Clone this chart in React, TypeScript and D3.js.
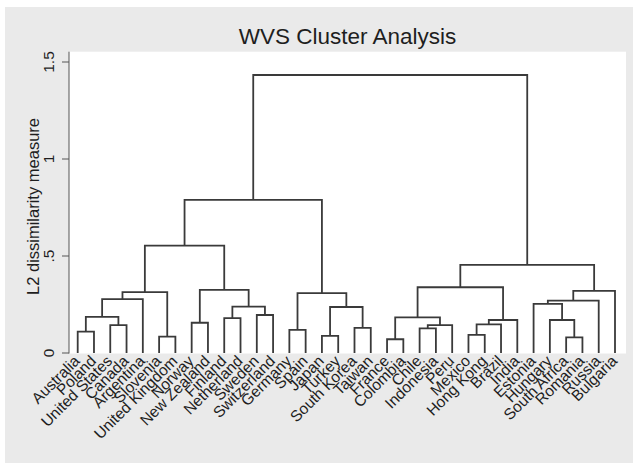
import React from "react";
import * as d3 from "d3";

const countries = [
  "Australia", "Poland", "United States", "Canada", "Argentina", "Slovenia",
  "United Kingdom", "Norway", "New Zealand", "Finland", "Netherland", "Sweden",
  "Switzerland", "Germany", "Spain", "Japan", "Turkey", "South Korea", "Taiwan",
  "France", "Colombia", "Chile", "Indonesia", "Peru", "Mexico", "Hong Kong",
  "Brazil", "India", "Estonia", "Hungary", "South Africa", "Romania", "Russia", "Bulgaria",
];

// linkage: [childA, childB, height]; ids < 34 are leaves, id 34+k is merge k
const linkage: [number, number, number][] = [
  [0, 1, 0.110], [2, 3, 0.144], [34, 35, 0.186], [36, 4, 0.278], [5, 6, 0.084],
  [37, 38, 0.314], [7, 8, 0.156], [9, 10, 0.180], [11, 12, 0.196], [41, 42, 0.239],
  [40, 43, 0.325], [39, 44, 0.553], [13, 14, 0.119], [15, 16, 0.088], [17, 18, 0.129],
  [47, 48, 0.237], [46, 49, 0.309], [45, 50, 0.789], [19, 20, 0.071], [21, 22, 0.127],
  [53, 23, 0.144], [52, 54, 0.184], [24, 25, 0.093], [56, 26, 0.148], [57, 27, 0.170],
  [55, 58, 0.339], [30, 31, 0.081], [29, 60, 0.170], [28, 61, 0.253], [62, 32, 0.270],
  [63, 33, 0.320], [59, 64, 0.454], [51, 65, 1.433],
];

const yTicks = [0, 0.5, 1, 1.5];
const yTickLabels = ["0", ".5", "1", "1.5"];

const W = 633, H = 465;
const FONT = "Liberation Sans, Arial, Helvetica, sans-serif";
const LINE = "#3a3a3a";
const TEXT = "#1e1e1e";

export default function App() {
  const x = d3.scalePoint<string>().domain(countries).range([77.7, 615]);
  const y = d3.scaleLinear().domain([0, 1.5]).range([353, 62]);

  const pos: { x: number; h: number }[] = countries.map((c) => ({ x: x(c)!, h: 0 }));
  const segs: string[] = [];
  linkage.forEach(([a, b, h]) => {
    const pa = pos[a], pb = pos[b];
    const path = d3.path();
    path.moveTo(pa.x, y(pa.h));
    path.lineTo(pa.x, y(h));
    path.lineTo(pb.x, y(h));
    path.lineTo(pb.x, y(pb.h));
    segs.push(path.toString());
    pos.push({ x: (pa.x + pb.x) / 2, h });
  });

  return (
    <svg width={W} height={H} style={{ display: "block", position: "absolute", left: 0, top: 0 }}>
      <rect x={0} y={0} width={W} height={H} fill="#ffffff" />
      <rect x={5} y={7} width={W - 5} height={456} fill="#eaeaea" />
      <rect x={69} y={51.7} width={626 - 69} height={353.5 - 51.7} fill="#ffffff" />
      <text x={347.5} y={44} textAnchor="middle" fontFamily={FONT} fontSize={22.5} fill={TEXT}>
        WVS Cluster Analysis
      </text>
      <line x1={69} x2={69} y1={51.7} y2={353.5} stroke="#555" strokeWidth={1} />
      {yTicks.map((t, i) => (
        <g key={t}>
          <line x1={62} x2={69} y1={y(t)} y2={y(t)} stroke="#555" strokeWidth={1} />
          <text
            transform={`translate(54,${y(t)}) rotate(-90)`}
            textAnchor="middle"
            fontFamily={FONT}
            fontSize={15.5}
            fill={TEXT}
          >
            {yTickLabels[i]}
          </text>
        </g>
      ))}
      <text
        transform={`translate(38.5,206.5) rotate(-90)`}
        textAnchor="middle"
        fontFamily={FONT}
        fontSize={16.5}
        fill={TEXT}
      >
        L2 dissimilarity measure
      </text>
      {segs.map((d, i) => (
        <path key={i} d={d} fill="none" stroke={LINE} strokeWidth={1.8} strokeLinejoin="miter" />
      ))}
      {countries.map((c) => (
        <text
          key={c}
          transform={`translate(${x(c)! + 3},${362}) rotate(-45)`}
          textAnchor="end"
          fontFamily={FONT}
          fontSize={15.5}
          fill={TEXT}
        >
          {c}
        </text>
      ))}
    </svg>
  );
}
